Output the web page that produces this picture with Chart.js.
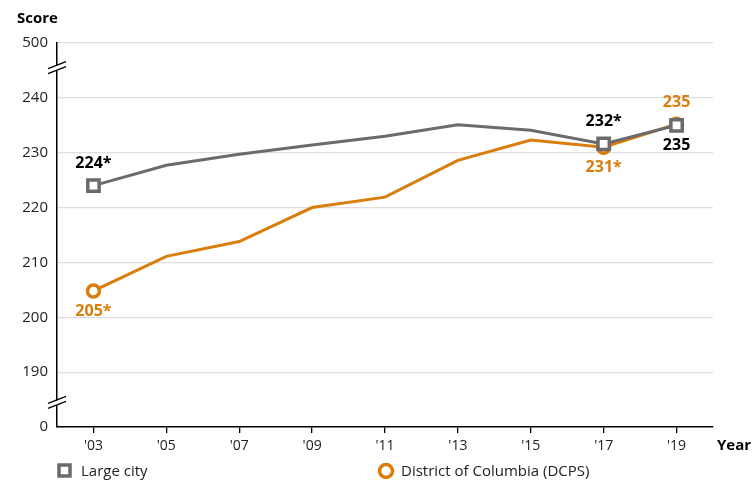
<!DOCTYPE html>
<html>
<head>
<meta charset="utf-8">
<script src="https://cdn.jsdelivr.net/npm/chart.js@4"></script>
<style>
  html, body { margin: 0; padding: 0; background: #fff; }
  #wrap { position: relative; width: 754px; height: 481px; }
</style>
</head>
<body>
<div id="wrap"><canvas id="grafico" width="754" height="481"></canvas></div>
<script>
// datos
const years = ["'03", "'05", "'07", "'09", "'11", "'13", "'15", "'17", "'19"];
const largeCity = [224, 227.7, 229.7, 231.4, 233, 235.1, 234.1, 231.6, 235];
const dcps = [204.8, 211.1, 213.8, 220, 221.9, 228.6, 232.3, 231.0, 235.2];
const markedIdx = [0, 7, 8];
// etiquetas de valores: [indice, texto, arriba/abajo]
const cityLabels = [[0, '224*', 'above'], [7, '232*', 'above'], [8, '235', 'below']];
const dcpsLabels = [[0, '205*', 'below'], [7, '231*', 'below'], [8, '235', 'above']];

const GRAY = '#6b6b6b';
const ORANGE = '#db7d0b';
const FONT = '"Open Sans", "Noto Sans", sans-serif';

const radios = (r) => years.map((_, i) => markedIdx.includes(i) ? r : 0);

// ---- plugin para textos, cortes del eje y leyenda ----
const extras = {
    id: 'extras',
    afterDatasetsDraw(chart) {
        const { ctx, scales: { x, y } } = chart;
        ctx.save();
        ctx.font = 'bold 16px ' + FONT;
        ctx.textAlign = 'center';
        ctx.textBaseline = 'middle';
        const poner = (lista, datos, color) => {
            lista.forEach(([i, txt, pos]) => {
                const px = x.getPixelForValue(i);
                const py = y.getPixelForValue(datos[i]);
                ctx.fillStyle = color;
                ctx.fillText(txt, px, pos === 'above' ? py - 22 : py + 20);
            });
        };
        poner(cityLabels, largeCity, '#000');
        poner(dcpsLabels, dcps, ORANGE);
        ctx.restore();
    },
    afterDraw(chart) {
        const { ctx, scales: { y }, chartArea } = chart;
        ctx.save();
        // cortes del eje
        const ax = chartArea.left;
        [245.5, 184.5].forEach(v => {
            const py = y.getPixelForValue(v);
            ctx.fillStyle = '#fff';
            ctx.fillRect(ax - 3, py - 2, 6, 5);
            ctx.strokeStyle = '#000';
            ctx.lineWidth = 1.3;
            [-2.5, 2.5].forEach(off => {
                ctx.beginPath();
                ctx.moveTo(ax - 9, py + off + 3.5);
                ctx.lineTo(ax + 9, py + off - 3.5);
                ctx.stroke();
            });
        });
        // títulos de ejes
        ctx.fillStyle = '#000';
        ctx.font = 'bold 15px ' + FONT;
        ctx.textBaseline = 'middle';
        ctx.textAlign = 'left';
        ctx.fillText('Score', 17, 19);
        ctx.fillText('Year', 717, 446);
        // leyenda
        ctx.font = '15px ' + FONT;
        ctx.fillStyle = '#fff';
        ctx.strokeStyle = GRAY;
        ctx.lineWidth = 3.5;
        ctx.fillRect(59, 465, 11, 11);
        ctx.strokeRect(59, 465, 11, 11);
        ctx.fillStyle = '#222';
        ctx.fillText('Large city', 81, 472);
        ctx.beginPath();
        ctx.arc(386, 471, 6.5, 0, Math.PI * 2);
        ctx.fillStyle = '#fff';
        ctx.fill();
        ctx.strokeStyle = ORANGE;
        ctx.lineWidth = 3.5;
        ctx.stroke();
        ctx.fillStyle = '#222';
        ctx.fillText('District of Columbia (DCPS)', 401, 472);
        ctx.restore();
    }
};

new Chart(document.getElementById('grafico'), {
    type: 'line',
    data: {
        labels: years,
        datasets: [
            {
                label: 'Large city', data: largeCity,
                borderColor: GRAY, backgroundColor: '#fff', borderWidth: 3,
                pointRadius: radios(8), pointBorderWidth: 3.5, pointStyle: 'rect',
                pointBackgroundColor: '#fff', pointBorderColor: GRAY, tension: 0
            },
            {
                label: 'District of Columbia (DCPS)', data: dcps,
                borderColor: ORANGE, backgroundColor: '#fff', borderWidth: 3,
                pointRadius: radios(6), pointBorderWidth: 3.5, pointStyle: 'circle',
                pointBackgroundColor: '#fff', pointBorderColor: ORANGE, tension: 0
            }
        ]
    },
    options: {
        responsive: false,
        animation: false,
        layout: { padding: { left: 0, right: 41, top: 43, bottom: 0 } },
        plugins: { legend: { display: false }, tooltip: { enabled: false } },
        scales: {
            x: {
                offset: true,
                grid: { display: true, drawOnChartArea: false, drawTicks: true, tickLength: 6, color: '#000', lineWidth: 1.3 },
                border: { display: true, color: '#000', width: 1.5 },
                ticks: { color: '#222', font: { family: FONT, size: 14 }, padding: 5, maxRotation: 0 },
                afterFit(s) { s.height = 54; }
            },
            y: {
                min: 180, max: 250,
                grid: {
                    drawTicks: false,
                    color: (c) => c.tick && c.tick.value === 180 ? 'rgba(0,0,0,0)' : '#dedede',
                    lineWidth: 1.2
                },
                border: { display: true, color: '#000', width: 1.5 },
                ticks: {
                    stepSize: 10, color: '#222', padding: 9,
                    font: { family: FONT, size: 15 },
                    callback: (v) => v === 180 ? '0' : v === 250 ? '500' : String(v)
                },
                afterFit(s) { s.width = 57; }
            }
        }
    },
    plugins: [extras]
});
</script>
</body>
</html>
